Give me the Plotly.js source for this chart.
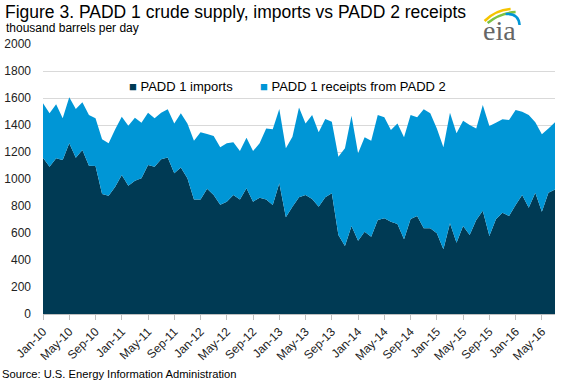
<!DOCTYPE html>
<html>
<head>
<meta charset="utf-8">
<script src="https://cdn.plot.ly/plotly-3.0.1.min.js"></script>
<style>html,body{margin:0;padding:0;background:#fff;}#chart{width:561px;height:384px;}</style>
</head>
<body>
<div id="chart"></div>
<script>
// ---- data (thousand barrels per day), monthly Jan-10 .. Jul-16 ----
const monthNames = ['Jan','Feb','Mar','Apr','May','Jun','Jul','Aug','Sep','Oct','Nov','Dec'];
const startYear = 2010, nMonths = 79;
const months = [];
for (let i = 0; i < nMonths; i++) {
  months.push(monthNames[i % 12] + '-' + String((startYear + Math.floor(i / 12)) % 100).padStart(2, '0'));
}

const padd1Imports = [
  1158,1091,1153,1141,1264,1158,1215,1099,1096,889,876,943,
  1030,950,987,1005,1104,1091,1146,1160,1042,1086,1005,849,
  849,928,881,810,832,881,849,931,832,862,849,807,
  968,716,795,864,881,852,795,864,894,585,504,652,
  543,610,573,696,709,684,667,553,704,726,635,635,
  598,479,672,528,652,585,696,765,578,701,750,726,
  807,881,787,898,758,898,923
];
const padd1ReceiptsFromPadd2 = [
  403,396,400,309,341,360,353,375,354,405,388,425,
  432,445,467,412,387,359,345,356,370,401,407,435,
  497,405,437,425,432,391,358,375,375,402,526,561,
  550,511,518,666,531,622,551,580,530,580,723,817,
  647,699,711,778,748,679,745,756,770,731,881,852,
  777,756,819,810,780,815,679,783,815,716,692,711,
  704,618,687,522,573,477,497
];
const tickLabels = ['Jan-10','May-10','Sep-10','Jan-11','May-11','Sep-11','Jan-12','May-12','Sep-12',
  'Jan-13','May-13','Sep-13','Jan-14','May-14','Sep-14','Jan-15','May-15','Sep-15','Jan-16','May-16'];
const seriesNames = ['PADD 1 imports', 'PADD 1 receipts from PADD 2'];
const colors = ['#003a54', '#0096d6'];

// ---- layout helpers (pixel -> paper) ----
const L = 43.3, R = 555.4, T = 44, B = 314;
const W = 561, H = 384;
const px = x => (x - L) / (R - L);
const py = y => (B - y) / (B - T);

const traces = [
  {x: months, y: padd1Imports, name: seriesNames[0], type: 'scatter', mode: 'none',
   stackgroup: 'one', fillcolor: colors[0], line: {width: 0}, hoverinfo: 'x+y+name'},
  {x: months, y: padd1ReceiptsFromPadd2, name: seriesNames[1], type: 'scatter', mode: 'none',
   stackgroup: 'one', fillcolor: colors[1], line: {width: 0}, hoverinfo: 'x+y+name'}
];

function pathP(pts) {
  return pts.map(p => {
    if (p[0] === 'M') return 'M' + px(p[1]) + ',' + py(p[2]);
    return 'Q' + px(p[1]) + ',' + py(p[2]) + ' ' + px(p[3]) + ',' + py(p[4]);
  }).join(' ');
}

const font = 'Arial, "Liberation Sans", sans-serif';

const layout = {
  width: W, height: H,
  margin: {l: L, r: W - R, t: T, b: H - B, pad: 0},
  paper_bgcolor: '#ffffff', plot_bgcolor: '#ffffff',
  showlegend: false,
  font: {family: font, color: '#222', size: 12},
  title: {text: 'Figure 3. PADD 1 crude supply, imports vs PADD 2 receipts',
          font: {family: font, size: 17.5, color: '#000'},
          xref: 'container', yref: 'container', x: 5 / W, xanchor: 'left',
          y: 1 - 12 / H, yanchor: 'middle', pad: {t: 0, b: 0, l: 0, r: 0}},
  xaxis: {type: 'category', range: [0, nMonths - 1], tickmode: 'array', tickvals: tickLabels,
          ticktext: tickLabels, tickangle: -45, ticks: 'outside', ticklen: 5, tickcolor: '#bfbfbf',
          showline: true, linecolor: '#bfbfbf', linewidth: 1, showgrid: false, zeroline: false,
          tickfont: {family: font, size: 12, color: '#222'}, fixedrange: true},
  yaxis: {range: [0, 2000], dtick: 200, tick0: 0, showgrid: true, gridcolor: '#d9d9d9', gridwidth: 1,
          zeroline: false, showline: false, ticks: '', ticklabelstandoff: 11,
          tickfont: {family: font, size: 12, color: '#222'}, fixedrange: true},
  annotations: [
    {text: 'thousand barrels per day', xref: 'paper', yref: 'paper', x: px(4), y: py(28),
     xanchor: 'left', yanchor: 'middle', showarrow: false, font: {family: font, size: 12, color: '#000'}},
    {text: '<span style="color:' + colors[0] + '">■</span> ' + seriesNames[0], xref: 'paper', yref: 'paper',
     x: px(127), y: py(87), xanchor: 'left', yanchor: 'middle', showarrow: false,
     font: {family: font, size: 13, color: '#000'}},
    {text: '<span style="color:' + colors[1] + '">■</span> ' + seriesNames[1], xref: 'paper', yref: 'paper',
     x: px(258), y: py(87), xanchor: 'left', yanchor: 'middle', showarrow: false,
     font: {family: font, size: 13, color: '#000'}},
    {text: 'Source: U.S. Energy Information Administration', xref: 'paper', yref: 'paper',
     x: px(0), y: py(374), xanchor: 'left', yanchor: 'middle', showarrow: false,
     font: {family: font, size: 11.2, color: '#000'}},
    {text: 'eia', xref: 'paper', yref: 'paper', x: px(500), y: py(30), xanchor: 'center', yanchor: 'middle',
     showarrow: false, font: {family: '"Liberation Serif", "DejaVu Serif", serif', size: 28, color: '#666'}}
  ],
  shapes: [
    {type: 'path', xref: 'paper', yref: 'paper', path: pathP([['M', 485, 21], ['Q', 496, 10, 511, 9]]),
     line: {color: '#f5c400', width: 2.5}},
    {type: 'path', xref: 'paper', yref: 'paper', path: pathP([['M', 488, 23], ['Q', 500, 13, 516, 12]]),
     line: {color: '#7dc242', width: 2.5}},
    {type: 'path', xref: 'paper', yref: 'paper', path: pathP([['M', 506, 14], ['Q', 519, 13, 520, 25]]),
     line: {color: '#0096d6', width: 2.5}}
  ]
};

Plotly.newPlot('chart', traces, layout, {displayModeBar: false, staticPlot: true});
</script>
</body>
</html>
